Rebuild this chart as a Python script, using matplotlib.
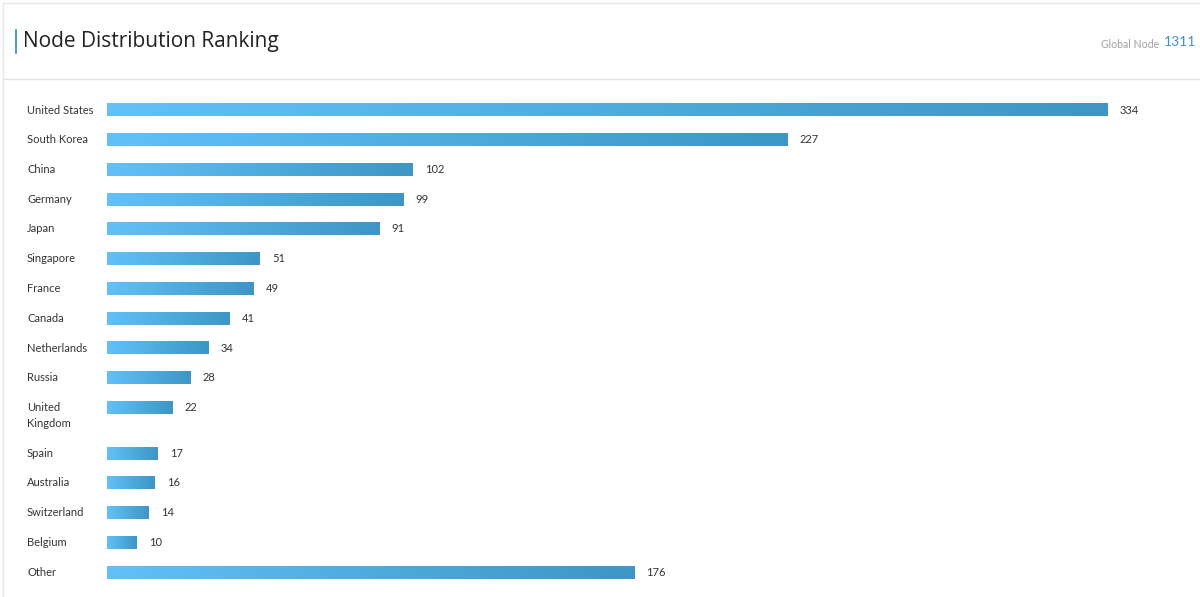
import numpy as np
import matplotlib
matplotlib.use("Agg")
import matplotlib.pyplot as plt
from matplotlib.colors import LinearSegmentedColormap
from matplotlib.lines import Line2D

# Dades del gràfic
countries = ["United States", "South Korea", "China", "Germany", "Japan",
             "Singapore", "France", "Canada", "Netherlands", "Russia",
             "United\nKingdom", "Spain", "Australia", "Switzerland",
             "Belgium", "Other"]
nodes = [334, 227, 102, 99, 91, 51, 49, 41, 34, 28, 22, 17, 16, 14, 10, 176]
title = "Node Distribution Ranking"
total_label = "Global Node"
total_value = "1311"

W, H = 1200, 597
fig = plt.figure(figsize=(W / 100, H / 100), dpi=100)
fig.patch.set_facecolor("white")

def fx(px):
    return px / W

def fy(py):
    return 1 - py / H

# Marc de la targeta
fig.add_artist(Line2D([fx(3), fx(1200)], [fy(3), fy(3)], color="#e6e6e6", lw=1))
fig.add_artist(Line2D([fx(3), fx(3)], [fy(3), fy(597)], color="#e6e6e6", lw=1))
fig.add_artist(Line2D([fx(3), fx(1200)], [fy(79), fy(79)], color="#e3e3e3", lw=1))
fig.add_artist(Line2D([fx(15.5), fx(15.5)], [fy(30), fy(53)], color="#2b8db3", lw=1.2))

# Capçalera
fig.text(fx(23), fy(42), title, fontsize=15, color="#222222",
         family="Open Sans", va="center", ha="left")
fig.text(fx(1196), fy(42), total_value, fontsize=10, color="#3d8fd1",
         family="Lato", va="center", ha="right")
fig.text(fx(1159), fy(44), total_label, fontsize=7.6, color="#a0a0a0",
         family="Lato", va="center", ha="right")

# Posicions de files (les etiquetes de dues línies ocupen més espai)
row_step = 29.75
extra_line = 16 / row_step
ypos = []
acc = 0.0
for lab in countries:
    ypos.append(acc)
    acc += 1 + extra_line * lab.count("\n")

top_px, bot_px, first_px = 90, 590, 110
ax = fig.add_axes([fx(107), fy(bot_px), fx(1108) - fx(107), (bot_px - top_px) / H])
ax.axis("off")

cmap = LinearSegmentedColormap.from_list("bar", ["#61c1f8", "#3d96c5"])
grad = np.linspace(0, 1, 256).reshape(1, -1)
bar_h = 13 / row_step
px_per_unit = (1108 - 107) / max(nodes)

for lab, v, y in zip(countries, nodes, ypos):
    ax.imshow(grad, cmap=cmap, aspect="auto",
              extent=(0, v, y + bar_h / 2, y - bar_h / 2), interpolation="bicubic")
    ax.text(v + 12 / px_per_unit, y, str(v), fontsize=8, color="#333333",
            family="Lato", va="center", ha="left")
    nl = lab.count("\n")
    ax.text(-80 / px_per_unit, y + extra_line * nl / 2, lab, fontsize=8,
            color="#333333", family="Lato", va="center", ha="left",
            linespacing=1.55, clip_on=False)

ax.set_xlim(0, max(nodes))
ax.set_ylim((bot_px - first_px) / row_step, -(first_px - top_px) / row_step)

fig.savefig("out.png", dpi=100, facecolor="white")
